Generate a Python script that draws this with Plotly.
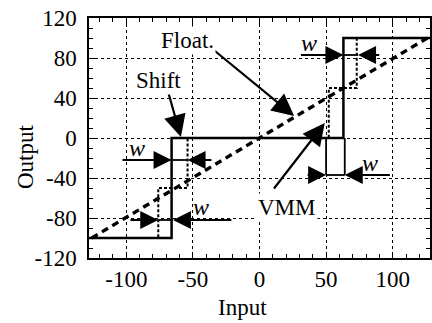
import plotly.graph_objects as go

# Data
shift_x = [-128, -66, -66, 63, 63, 128]
shift_y = [-100, -100, 0, 0, 100, 100]

vmm_x = [-128, -76, -76, -54, -54, 52, 52, 73, 73, 128]
vmm_y = [-100, -100, -50, -50, 0, 0, 50, 50, 100, 100]

float_x = [-126, 126]
float_y = [-100, 100]

# "w" width markers: y level, inner tips, outer tails, label position
w_y = [83, -22, -82, -37]
w_tip_left = [63, -66, -76, 50]
w_tip_right = [74, -54, -65, 64]
w_tail_left = [30, -104, -98, 35]
w_tail_right = [91, -35, -20, 99]
w_label_x = [37, -92, -44, 83]
w_label_y = [95, -10, -69, -25]

# extension lines for the lower-right marker
ext_x = [50, 64]
ext_y0 = [0, 0]
ext_y1 = [-37, -37]

x_ticks = [-100, -50, 0, 50, 100]
y_ticks = [-120, -80, -40, 0, 40, 80, 120]

FONT = "Liberation Serif"

W, H = 432, 323
ML, MR, MT, MB = 89, 2, 18, 65


def paper_y(px):
    return (H - MB - px) / (H - MT - MB)


def paper_x(px):
    return (px - ML) / (W - ML - MR)


fig = go.Figure()

fig.add_trace(go.Scatter(x=float_x, y=float_y, mode="lines",
                         line=dict(color="black", width=3.4, dash="7px,5px"),
                         hoverinfo="skip"))
fig.add_trace(go.Scatter(x=vmm_x, y=vmm_y, mode="lines",
                         line=dict(color="black", width=2, dash="3px,2px"),
                         hoverinfo="skip"))
fig.add_trace(go.Scatter(x=shift_x, y=shift_y, mode="lines",
                         line=dict(color="black", width=2.5),
                         hoverinfo="skip"))

for i in range(len(ext_x)):
    fig.add_trace(go.Scatter(x=[ext_x[i], ext_x[i]], y=[ext_y0[i], ext_y1[i]], mode="lines",
                             line=dict(color="black", width=1.8), hoverinfo="skip"))

for i in range(len(w_y)):
    fig.add_trace(go.Scatter(x=[w_tip_left[i], w_tip_right[i]], y=[w_y[i], w_y[i]], mode="lines",
                             line=dict(color="black", width=1.8), hoverinfo="skip"))
    for tip, tail in ((w_tip_left[i], w_tail_left[i]), (w_tip_right[i], w_tail_right[i])):
        fig.add_annotation(x=tip, y=w_y[i], ax=tail, ay=w_y[i], xref="x", yref="y",
                           axref="x", ayref="y", text="", showarrow=True,
                           arrowhead=2, arrowsize=2.0, arrowwidth=1.8, arrowcolor="black",
                           standoff=0)
    fig.add_annotation(x=w_label_x[i], y=w_label_y[i], text="<i>w</i>", showarrow=False,
                       font=dict(family=FONT, size=24, color="black"))

# labelled arrows
labels = [
    dict(text="Float.", tx=-54, ty=98, hx=26, hy=22, sx=-38, sy=92),
    dict(text="Shift", tx=-76, ty=58, hx=-59, hy=1, sx=-69, sy=48),
    dict(text="VMM", tx=21, ty=-69, hx=49, hy=15, sx=10, sy=-52),
]
for lb in labels:
    fig.add_annotation(x=lb["hx"], y=lb["hy"], ax=lb["sx"], ay=lb["sy"], xref="x", yref="y",
                       axref="x", ayref="y", text="", showarrow=True, arrowhead=2,
                       arrowsize=2.0, arrowwidth=2.2, arrowcolor="black", standoff=0)
    fig.add_annotation(x=lb["tx"], y=lb["ty"], text=lb["text"], showarrow=False,
                       font=dict(family=FONT, size=23, color="black"), bgcolor="white")

# axis titles (placed as in the original, slightly off-centre)
fig.add_annotation(x=-13, y=paper_y(307), xref="x", yref="paper", text="Input",
                   xanchor="center", yanchor="middle", showarrow=False,
                   font=dict(family=FONT, size=23, color="black"))
fig.add_annotation(x=paper_x(25), y=-19, xref="paper", yref="y", text="Output",
                   textangle=-90, xanchor="center", yanchor="middle", showarrow=False,
                   font=dict(family=FONT, size=23, color="black"))

axis_common = dict(
    showline=True, linecolor="black", linewidth=1.5, mirror="allticks",
    ticks="inside", ticklen=6, tickwidth=1.2, tickcolor="black",
    showgrid=True, gridcolor="black", gridwidth=1, griddash="dot",
    zeroline=False, automargin=False,
    tickfont=dict(family=FONT, size=23, color="black"),
    minor=dict(ticks="inside", ticklen=4, tickwidth=1, tickcolor="black", dtick=10,
               showgrid=False),
)

fig.update_layout(
    width=W, height=H,
    margin=dict(l=ML, r=MR, t=MT, b=MB),
    paper_bgcolor="white", plot_bgcolor="white",
    showlegend=False,
    xaxis=dict(range=[-128, 128], tickvals=x_ticks, ticktext=[str(v) for v in x_ticks],
               ticklabelstandoff=0, **axis_common),
    yaxis=dict(range=[-120, 120], tickvals=y_ticks, ticktext=[str(v) for v in y_ticks],
               ticklabelstandoff=6, **axis_common),
)

fig.write_html("out.html", config={"displayModeBar": False},
               post_script="document.body.style.margin='0';document.body.style.overflow='hidden';")
